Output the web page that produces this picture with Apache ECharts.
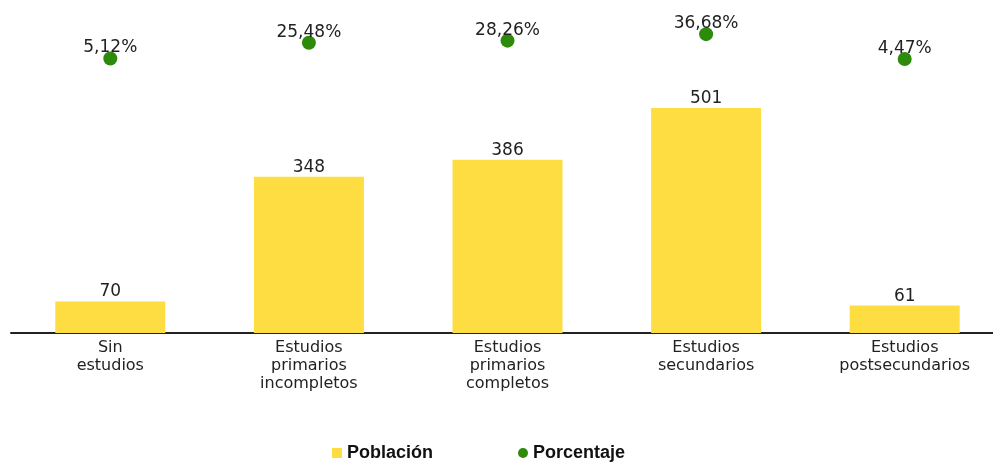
<!DOCTYPE html>
<html><head><meta charset="utf-8">
<script src="https://cdn.jsdelivr.net/npm/echarts@6/dist/echarts.min.js"></script>
<style>html,body{margin:0;padding:0;background:#fff}#c{width:993px;height:462px}</style>
</head><body><div id="c"></div>
<script>
const categories = ['Sin\nestudios', 'Estudios\nprimarios\nincompletos', 'Estudios\nprimarios\ncompletos', 'Estudios\nsecundarios', 'Estudios\npostsecundarios'];
const poblacion = [70, 348, 386, 501, 61];
const porcentaje = [5.12, 25.48, 28.26, 36.68, 4.47];

const chart = echarts.init(document.getElementById('c'));
const fmtPct = v => v.toFixed(2).replace('.', ',') + '%';
chart.setOption({
  animation: false,
  grid: { left: 11, right: -11, top: 20, bottom: 129, outerBoundsMode: 'none', containLabel: false },
  legend: {
    left: 327, top: 439, itemWidth: 10, itemHeight: 10, itemGap: 85,
    textStyle: { fontFamily: 'Liberation Sans, Arial', fontWeight: 'bold', fontSize: 18, color: '#111' },
    data: [{ name: 'Población', icon: 'rect' }, { name: 'Porcentaje', icon: 'circle' }]
  },
  xAxis: {
    type: 'category', data: categories,
    axisLine: { lineStyle: { color: '#222', width: 2 } },
    axisTick: { show: false },
    axisLabel: { color: '#222', fontSize: 16, lineHeight: 18, margin: 6, fontFamily: 'DejaVu Sans', interval: 0 }
  },
  yAxis: [
    { type: 'value', min: 0, max: 697, show: false, splitLine: { show: false } },
    { type: 'value', min: -350, max: 55, show: false, splitLine: { show: false } }
  ],
  series: [
    {
      name: 'Población', type: 'bar', data: poblacion, barWidth: 110,
      itemStyle: { color: '#FEDD43' },
      label: { show: true, position: 'top', distance: 1, color: '#222', fontSize: 17, fontFamily: 'DejaVu Sans' }
    },
    {
      name: 'Porcentaje', type: 'scatter', yAxisIndex: 1, data: porcentaje, symbolSize: 14,
      itemStyle: { color: '#2E8A0A', opacity: 1 },
      label: { show: true, position: 'top', distance: -5, color: '#222', fontSize: 17, fontFamily: 'DejaVu Sans',
        formatter: p => fmtPct(p.value) }
    }
  ]
});
</script></body></html>
